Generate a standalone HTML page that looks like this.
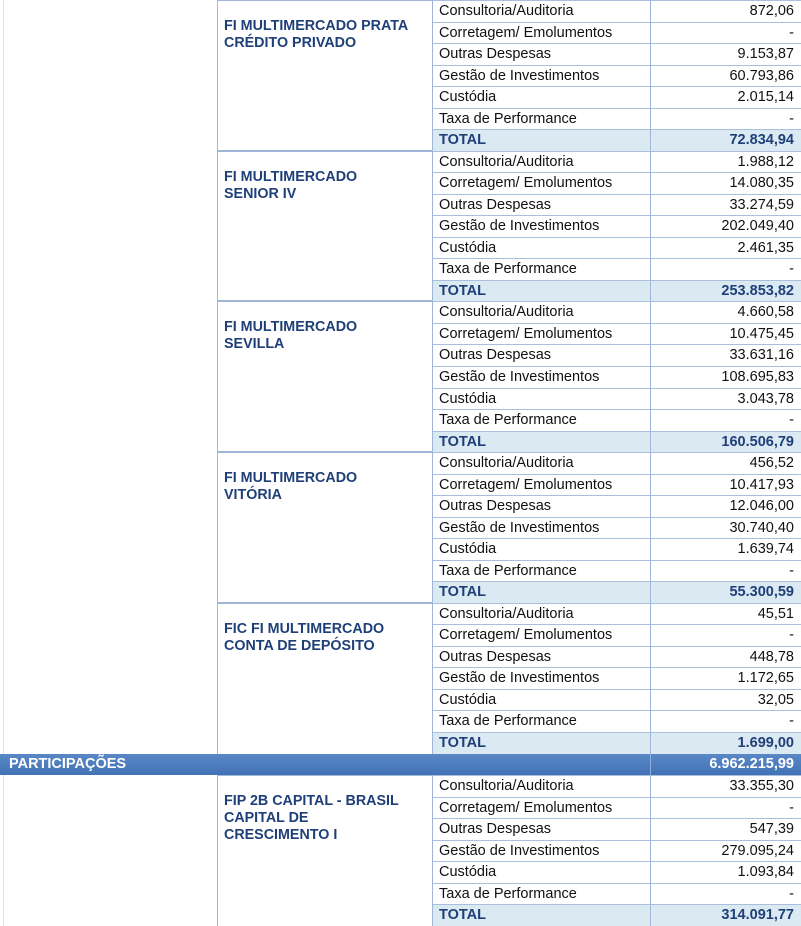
<!DOCTYPE html>
<html><head><meta charset="utf-8"><style>
body{margin:0;width:801px;height:926px;overflow:hidden;background:#fff;font-family:"Liberation Sans",sans-serif;position:relative}
.a{position:absolute}
.r{position:absolute;left:432px;width:369px;height:21.53px;border-top:1px solid #a9bfdc;box-sizing:border-box;font-size:14.5px;color:#111}
.r span{position:absolute;left:7px;top:2px}
.r b{position:absolute;right:7px;top:2px;font-weight:normal}
.t{background:#dbe9f3;color:#1f3f78}
.t span,.t b{font-weight:bold!important}
.n{position:absolute;left:224px;font-weight:bold;font-size:14.3px;color:#1f3f78;line-height:17px}
.v{position:absolute;top:0;width:1px;height:926px;background:#9fb6d6;z-index:5}
.h{position:absolute;left:217px;width:215px;height:2px;background:#9fb6d6}
</style></head><body>
<div class="v" style="left:3px;background:#d6e0ec;z-index:0"></div>
<div class="v" style="left:217px;z-index:0"></div>
<div class="v" style="left:432px"></div>
<div class="v" style="left:650px"></div>
<div id="c"></div>
<script>
const blocks=[
["FI MULTIMERCADO PRATA<br>CRÉDITO PRIVADO",["872,06","-","9.153,87","60.793,86","2.015,14","-","72.834,94"]],
["FI MULTIMERCADO<br>SENIOR IV",["1.988,12","14.080,35","33.274,59","202.049,40","2.461,35","-","253.853,82"]],
["FI MULTIMERCADO<br>SEVILLA",["4.660,58","10.475,45","33.631,16","108.695,83","3.043,78","-","160.506,79"]],
["FI MULTIMERCADO<br>VITÓRIA",["456,52","10.417,93","12.046,00","30.740,40","1.639,74","-","55.300,59"]],
["FIC FI MULTIMERCADO<br>CONTA DE DEPÓSITO",["45,51","-","448,78","1.172,65","32,05","-","1.699,00"]],
null,
["FIP 2B CAPITAL - BRASIL<br>CAPITAL DE<br>CRESCIMENTO I",["33.355,30","-","547,39","279.095,24","1.093,84","-","314.091,77"]]];
const labels=["Consultoria/Auditoria","Corretagem/ Emolumentos","Outras Despesas","Gestão de Investimentos","Custódia","Taxa de Performance","TOTAL"];
const H=21.53;let row=0,h="";
for(const b of blocks){
 if(!b){const y=row*H;h+=`<div class="a" style="left:0;top:${y}px;width:801px;height:${H}px;background:linear-gradient(#5a88c6,#4173b6);color:#fff;font-weight:bold;font-size:14.5px;z-index:6"><span class="a" style="left:9px;top:2px">PARTICIPAÇÕES</span><span class="a" style="right:7px;top:2px">6.962.215,99</span><div class="a" style="left:650px;top:0;width:1px;height:100%;background:#8fb0dc"></div></div>`;row++;continue;}
 const y0=row*H;
 h+=`<div class="h" style="top:${y0-1}px"></div><div class="n" style="top:${y0+18}px">${b[0]}</div>`;
 for(let i=0;i<7;i++){h+=`<div class="r${i==6?' t':''}" style="top:${row*H}px"><span>${labels[i]}</span><b>${b[1][i]}</b></div>`;row++;}
}
document.getElementById('c').innerHTML=h;
</script>
</body></html>
